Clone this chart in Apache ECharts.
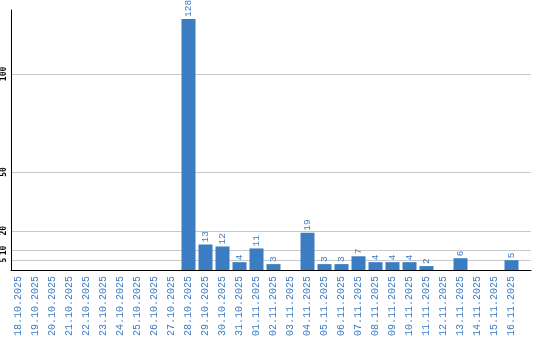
<!DOCTYPE html>
<html>
<head>
<meta charset="utf-8">
<script src="https://cdn.jsdelivr.net/npm/echarts@6/dist/echarts.min.js"></script>
<style>html,body{margin:0;padding:0;background:#fff}#c{width:540px;height:340px}</style>
</head>
<body>
<div id="c"></div>
<script>
var categories = ['18.10.2025','19.10.2025','20.10.2025','21.10.2025','22.10.2025','23.10.2025','24.10.2025','25.10.2025','26.10.2025','27.10.2025','28.10.2025','29.10.2025','30.10.2025','31.10.2025','01.11.2025','02.11.2025','03.11.2025','04.11.2025','05.11.2025','06.11.2025','07.11.2025','08.11.2025','09.11.2025','10.11.2025','11.11.2025','12.11.2025','13.11.2025','14.11.2025','15.11.2025','16.11.2025'];
var values = [0,0,0,0,0,0,0,0,0,0,128,13,12,4,11,3,0,19,3,3,7,4,4,4,2,0,6,0,0,5];
var yTicks = [5,10,20,50,100];

var Y_MAX = 132.6;
var BLUE = '#3a7dc2';
var TXT = '#3a7cc4';
var chart = echarts.init(document.getElementById('c'), null, {renderer:'canvas'});
chart.setOption({
  animation: false,
  grid: [
    {left: 10, right: 9, top: 10, bottom: 70},
    {left: 10, width: 510, top: 10, bottom: 70}
  ],
  xAxis: [
    {gridIndex: 0, type: 'value', min: 0, max: 1,
     axisLine: {show: true, onZero: false, lineStyle: {color: '#000', width: 1}},
     axisTick: {show: false}, axisLabel: {show: false}, splitLine: {show: false}},
    {gridIndex: 1, type: 'category', data: categories, boundaryGap: true,
     axisLine: {show: false}, axisTick: {show: false},
     axisLabel: {interval: 0, rotate: 90, margin: 6, color: TXT,
       fontFamily: 'Liberation Mono', fontSize: 10}}
  ],
  yAxis: [
    {gridIndex: 0, type: 'value', min: 0, max: Y_MAX,
     axisLine: {show: true, lineStyle: {color: '#000', width: 1}},
     axisTick: {show: false, customValues: yTicks},
     axisLabel: {customValues: yTicks, rotate: 90, margin: 3, color: '#000',
       fontFamily: 'DejaVu Sans Mono', fontSize: 8, fontWeight: 'bold'},
     splitLine: {show: true, lineStyle: {color: '#c8c8c8', width: 1}}},
    {gridIndex: 1, type: 'value', min: 0, max: Y_MAX, show: false,
     splitLine: {show: false}}
  ],
  series: [{
    type: 'bar', xAxisIndex: 1, yAxisIndex: 1, data: values, barWidth: 14,
    itemStyle: {color: BLUE},
    label: {show: true, position: 'top', rotate: 90, align: 'left', verticalAlign: 'middle',
      distance: 2, color: TXT, fontFamily: 'Liberation Mono', fontSize: 9.5,
      formatter: function(p){ return p.value ? String(p.value) : ''; }}
  }]
});
</script>
</body>
</html>
